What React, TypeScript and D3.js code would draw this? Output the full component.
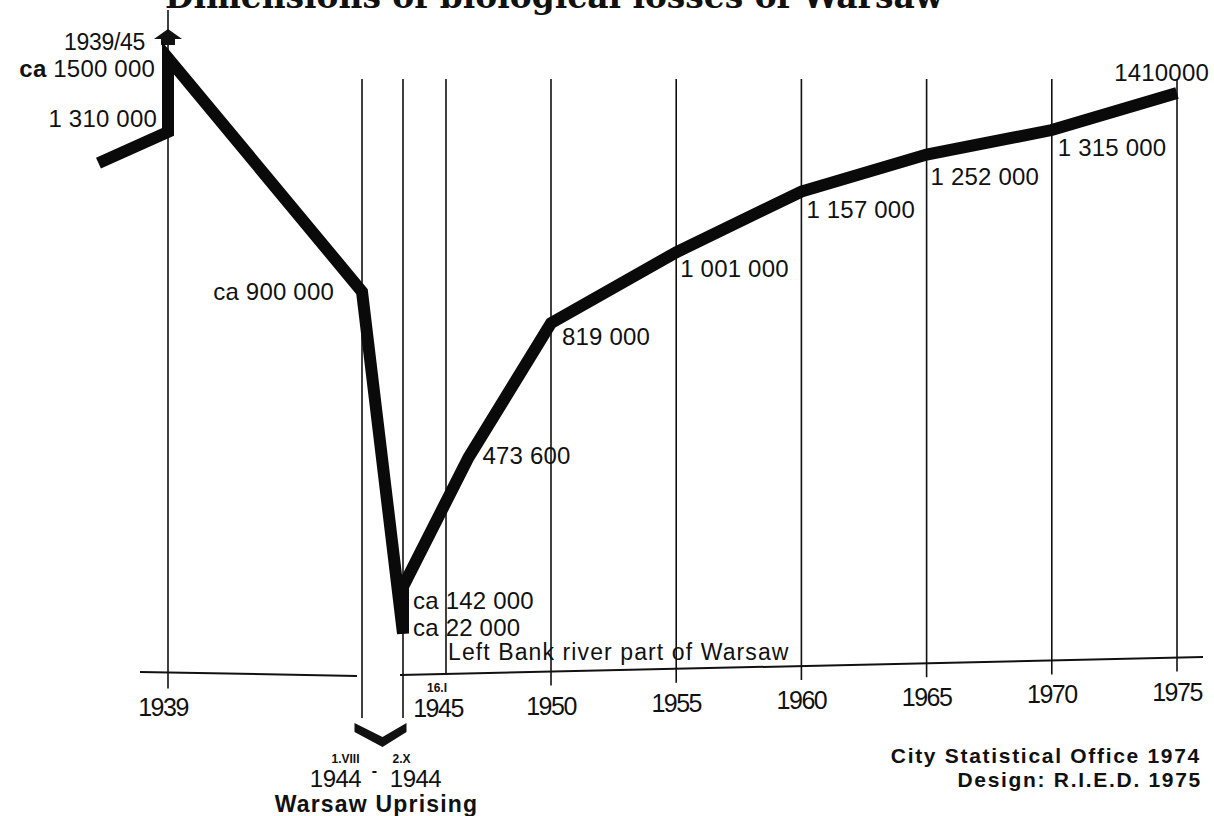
import React from "react";
import * as d3 from "d3";

// population of Warsaw, vertices of the thick line in drawing order
const dates = [1937, 1939, 1939, 1944.58, 1944.75, 1944.75, 1946.1, 1950, 1955, 1960, 1965, 1970, 1975];
const population = [1230000, 1310000, 1500000, 900000, 22000, 142000, 473600, 819000, 1001000, 1157000, 1252000, 1315000, 1410000];
const valueLabels = ["", "1 310 000", "1500 000", "900 000", "22 000", "142 000", "473 600", "819 000", "1 001 000", "1 157 000", "1 252 000", "1 315 000", "1410000"];
const valuePrefix = ["", "", "ca", "ca", "ca", "ca", "", "", "", "", "", "", ""];

// vertical rules
const gridDates = [1939, 1944.58, 1944.75, 1945.04, 1950, 1955, 1960, 1965, 1970, 1975];
const tickDates = [1939, 1945.04, 1950, 1955, 1960, 1965, 1970, 1975];
const tickLabels = ["1939", "1945", "1950", "1955", "1960", "1965", "1970", "1975"];

const uprisingStart = 1944.58;
const uprisingEnd = 1944.75;

// where each value label sits relative to its vertex
const labelPos = [
  null,
  { anchor: "end", dx: -11, dy: -5 },
  { anchor: "end", dx: -13, dy: 19, boldPrefix: true },
  { anchor: "end", dx: -28, dy: 8 },
  { anchor: "start", dx: 10, dy: 3 },
  { anchor: "start", dx: 10, dy: 22 },
  { anchor: "start", dx: 14, dy: 6 },
  { anchor: "start", dx: 11, dy: 22 },
  { anchor: "start", dx: 4, dy: 25 },
  { anchor: "start", dx: 5, dy: 26 },
  { anchor: "start", dx: 4, dy: 30 },
  { anchor: "start", dx: 6, dy: 26 },
  { anchor: "end", dx: 32, dy: -12 },
];

const W = 1214;
const H = 816;
const sans = "'Liberation Sans', Arial, sans-serif";

export default function App() {
  const x = d3
    .scaleLinear()
    .domain([1939, 1944.58, 1944.75, 1945.04, 1950, 1975])
    .range([168, 362, 403, 446, 551, 1177]);

  const y = d3.scaleLinear().domain([0, 1500000]).range([642, 58]);

  // the base line is drawn a little askew, and broken by the uprising column
  const axisY = (px: number) =>
    px < 380 ? 672 + (px - 140) * 0.018 : 675 - (px - 400) * 0.0224;

  const pts = dates.map((d, i) => [x(d), y(population[i])] as [number, number]);
  const line = d3.line<[number, number]>().curve(d3.curveLinear)(pts) || "";

  const peak = pts[2];
  const midU = (x(uprisingStart) + x(uprisingEnd)) / 2;

  return (
    <svg
      width={W}
      height={H}
      style={{ position: "absolute", left: 0, top: 0, background: "#fff" }}
    >
      {/* title, cut by the top edge */}
      <text
        x={165}
        y={8}
        fontFamily="'DejaVu Serif', 'Liberation Serif', serif"
        fontWeight="bold"
        fontSize={34}
        textLength={778}
        lengthAdjust="spacingAndGlyphs"
        fill="#111"
      >
        Dimensions of biological losses of Warsaw
      </text>

      {/* vertical rules */}
      {gridDates.map((d, i) => {
        const gx = x(d);
        let top = 79;
        let bottom = axisY(gx) + 14;
        if (d === 1939) {
          top = peak[1] - 48;
          bottom = axisY(gx) + 16;
        } else if (d === uprisingStart || d === uprisingEnd) {
          bottom = 718;
        } else if (d === 1945.04) {
          bottom = axisY(gx);
        }
        return (
          <line key={i} x1={gx} x2={gx} y1={top} y2={bottom} stroke="#111" strokeWidth={1.6} />
        );
      })}

      {/* base line */}
      <line x1={140} y1={axisY(140)} x2={x(uprisingStart) - 5} y2={axisY(x(uprisingStart) - 5)} stroke="#111" strokeWidth={2} />
      <line x1={x(uprisingEnd) - 3} y1={axisY(x(uprisingEnd) - 3)} x2={1203} y2={axisY(1203)} stroke="#111" strokeWidth={2} />

      {/* arrow above the 1939 peak */}
      <path
        d={`M${peak[0]},${peak[1] - 29} L${peak[0] + 14},${peak[1] - 19} L${peak[0] + 7},${peak[1] - 19} L${peak[0] + 7},${peak[1] - 13} L${peak[0] - 7},${peak[1] - 13} L${peak[0] - 7},${peak[1] - 19} L${peak[0] - 14},${peak[1] - 19} Z`}
        fill="#111"
      />

      {/* population line */}
      <path
        d={line}
        fill="none"
        stroke="#0a0a0a"
        strokeWidth={12}
        strokeLinejoin="miter"
        strokeMiterlimit={3}
      />

      {/* value labels */}
      {pts.map((p, i) => {
        const lp = labelPos[i];
        if (!lp || !valueLabels[i]) return null;
        return (
          <text
            key={i}
            x={p[0] + lp.dx}
            y={p[1] + lp.dy}
            textAnchor={lp.anchor}
            fontFamily={sans}
            fontSize={24}
            letterSpacing={0.2}
            fill="#111"
          >
            {valuePrefix[i] && (
              <tspan fontWeight={lp.boldPrefix ? "bold" : "normal"}>{valuePrefix[i] + " "}</tspan>
            )}
            {valueLabels[i]}
          </text>
        );
      })}
      <text
        x={peak[0] - 23}
        y={peak[1] - 8}
        textAnchor="end"
        fontFamily={sans}
        fontSize={23}
        letterSpacing={-0.3}
        fill="#111"
      >
        1939/45
      </text>
      <text
        x={pts[4][0] + 45}
        y={pts[4][1] + 27}
        fontFamily={sans}
        fontSize={23}
        letterSpacing={1.1}
        fill="#111"
      >
        Left Bank river part of Warsaw
      </text>

      {/* year labels */}
      {tickDates.map((d, i) => (
        <text
          key={i}
          x={x(d) - (d === 1945.04 ? 8 : d === 1939 ? 5 : 0)}
          y={axisY(x(d)) + 43}
          textAnchor="middle"
          fontFamily={sans}
          fontSize={25}
          letterSpacing={-1.5}
          fill="#111"
        >
          {tickLabels[i]}
        </text>
      ))}
      <text x={x(1945.04) - 9} y={axisY(x(1945.04)) + 18} textAnchor="middle" fontFamily={sans} fontWeight="bold" fontSize={12} fill="#111">
        16.I
      </text>

      {/* Warsaw Uprising marker */}
      <path
        d={`M${midU - 28},${723} L${midU},${737} L${midU + 24},${723} L${midU + 24},${732} L${midU},${747} L${midU - 28},${732} Z`}
        fill="#111"
      />
      <text x={midU - 37} y={763} textAnchor="middle" fontFamily={sans} fontWeight="bold" fontSize={12} fill="#111">
        1.VIII
      </text>
      <text x={midU + 19} y={763} textAnchor="middle" fontFamily={sans} fontWeight="bold" fontSize={12} fill="#111">
        2.X
      </text>
      <text x={midU - 47} y={787} textAnchor="middle" fontFamily={sans} fontSize={24} letterSpacing={-0.5} fill="#111">
        1944
      </text>
      <text x={midU - 8} y={776} textAnchor="middle" fontFamily={sans} fontWeight="bold" fontSize={16} fill="#111">
        -
      </text>
      <text x={midU + 33} y={787} textAnchor="middle" fontFamily={sans} fontSize={24} letterSpacing={-0.5} fill="#111">
        1944
      </text>
      <text x={midU - 6} y={812} textAnchor="middle" fontFamily={sans} fontWeight="bold" fontSize={23} letterSpacing={1.2} fill="#111">
        Warsaw Uprising
      </text>

      {/* source */}
      <text x={1201} y={763} textAnchor="end" fontFamily={sans} fontWeight="bold" fontSize={21} letterSpacing={1.7} fill="#111">
        City Statistical Office 1974
      </text>
      <text x={1202} y={787} textAnchor="end" fontFamily={sans} fontWeight="bold" fontSize={21} letterSpacing={1.7} fill="#111">
        Design: R.I.E.D. 1975
      </text>
    </svg>
  );
}
